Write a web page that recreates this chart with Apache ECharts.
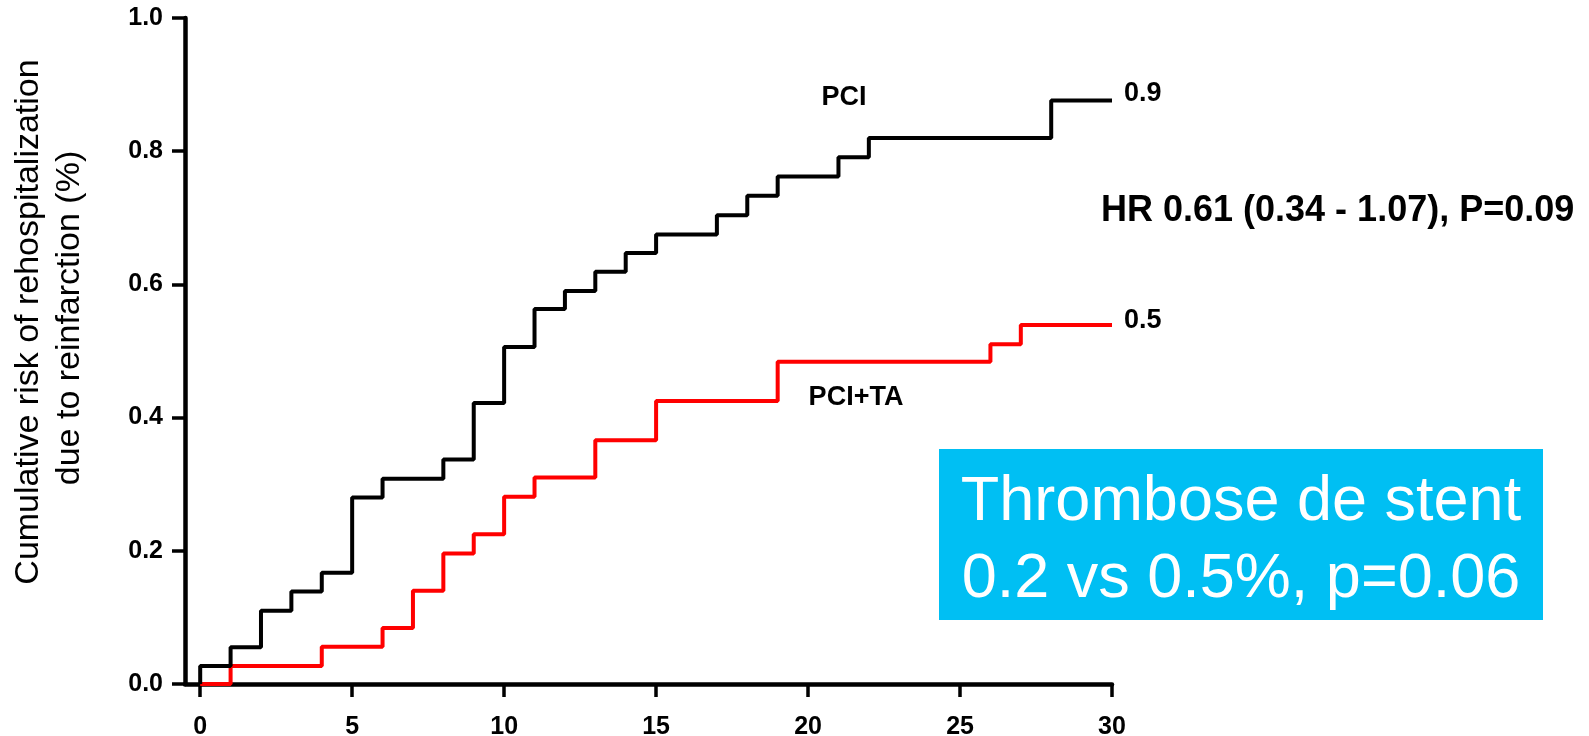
<!DOCTYPE html>
<html>
<head>
<meta charset="utf-8">
<script src="https://cdn.jsdelivr.net/npm/echarts@6/dist/echarts.min.js"></script>
<style>
html,body{margin:0;padding:0;background:#fff;}
#c{width:1589px;height:736px;}
</style>
</head>
<body>
<div id="c"></div>
<script>
// ---- data ----
const xTicks = [0, 5, 10, 15, 20, 25, 30];
const pciTimes = [0, 0, 1, 2, 3, 4, 5, 6, 8, 9, 10, 11, 12, 13, 14, 15, 17, 18, 19, 21, 22, 28, 30];
const pciRisk  = [0, 0.027, 0.055, 0.110, 0.139, 0.167, 0.280, 0.308, 0.337, 0.422, 0.506, 0.563, 0.590, 0.619, 0.647, 0.675, 0.704, 0.733, 0.762, 0.791, 0.820, 0.876, 0.876];
const taTimes  = [0, 1, 4, 6, 7, 8, 9, 10, 11, 13, 15, 19, 26, 27, 30];
const taRisk   = [0, 0.027, 0.056, 0.084, 0.140, 0.196, 0.225, 0.281, 0.310, 0.366, 0.425, 0.484, 0.510, 0.539, 0.539];
const seriesNames = ['PCI', 'PCI+TA'];
const endLabels = ['0.9', '0.5'];
const yAxisTitle = ['Cumulative risk of rehospitalization', 'due to reinfarction (%)'];
const hrText = 'HR 0.61 (0.34 - 1.07), P=0.09';
const boxLines = ['Thrombose de stent', '0.2 vs 0.5%, p=0.06'];

const FONT = '"Liberation Sans", Arial, sans-serif';
const chart = echarts.init(document.getElementById('c'), null, {renderer: 'canvas'});

const zip = (xs, ys) => xs.map((x, i) => [x, ys[i]]);

chart.setOption({
  animation: false,
  backgroundColor: '#fff',
  grid: {left: 185, right: 477, top: 18, bottom: 52, containLabel: false, outerBoundsMode: 'none'},
  xAxis: {
    type: 'value', min: -0.5, max: 30,
    axisLine: {show: true, onZero: false, lineStyle: {color: '#000', width: 4.5}},
    axisTick: {show: true, customValues: xTicks, length: 13, lineStyle: {color: '#000', width: 3.5}},
    axisLabel: {customValues: xTicks, margin: 31, color: '#000', fontFamily: FONT, fontWeight: 'bold', fontSize: 25},
    splitLine: {show: false}
  },
  yAxis: {
    type: 'value', min: 0, max: 1, interval: 0.2,
    axisLine: {show: true, onZero: false, lineStyle: {color: '#000', width: 4.5}},
    axisTick: {show: true, length: 13, lineStyle: {color: '#000', width: 3.5}},
    axisLabel: {margin: 22, color: '#000', fontFamily: FONT, fontWeight: 'bold', fontSize: 25,
      formatter: v => v.toFixed(1)},
    splitLine: {show: false}
  },
  series: [
    {name: seriesNames[0], type: 'line', step: 'end', showSymbol: false, data: zip(pciTimes, pciRisk),
     lineStyle: {color: '#000', width: 4}, z: 3},
    {name: seriesNames[1], type: 'line', step: 'end', showSymbol: false, data: zip(taTimes, taRisk),
     lineStyle: {color: '#ff0000', width: 4}, z: 2}
  ],
  graphic: [
    {type: 'text', x: 29, y: 322, rotation: Math.PI / 2, silent: true,
     style: {text: yAxisTitle[0], font: '34px ' + FONT, fill: '#000', align: 'center', verticalAlign: 'middle'}},
    {type: 'text', x: 70, y: 318, rotation: Math.PI / 2, silent: true,
     style: {text: yAxisTitle[1], font: '34px ' + FONT, fill: '#000', align: 'center', verticalAlign: 'middle'}},
    {type: 'text', x: 844, y: 98, style: {text: seriesNames[0], font: 'bold 27px ' + FONT, fill: '#000', align: 'center', verticalAlign: 'middle'}},
    {type: 'text', x: 856, y: 398, style: {text: seriesNames[1], font: 'bold 27px ' + FONT, fill: '#000', align: 'center', verticalAlign: 'middle'}},
    {type: 'text', x: 1124, y: 94, style: {text: endLabels[0], font: 'bold 27px ' + FONT, fill: '#000', align: 'left', verticalAlign: 'middle'}},
    {type: 'text', x: 1124, y: 321, style: {text: endLabels[1], font: 'bold 27px ' + FONT, fill: '#000', align: 'left', verticalAlign: 'middle'}},
    {type: 'text', x: 1101, y: 211, style: {text: hrText, font: 'bold 36px ' + FONT, fill: '#000', align: 'left', verticalAlign: 'middle'}},
    {type: 'rect', shape: {x: 939, y: 449, width: 604, height: 171}, style: {fill: '#00bff3'}},
    {type: 'text', x: 1241, y: 503, style: {text: boxLines[0], font: '63px ' + FONT, fill: '#fff', align: 'center', verticalAlign: 'middle'}},
    {type: 'text', x: 1241, y: 580, style: {text: boxLines[1], font: '63px ' + FONT, fill: '#fff', align: 'center', verticalAlign: 'middle'}}
  ]
});
</script>
</body>
</html>
